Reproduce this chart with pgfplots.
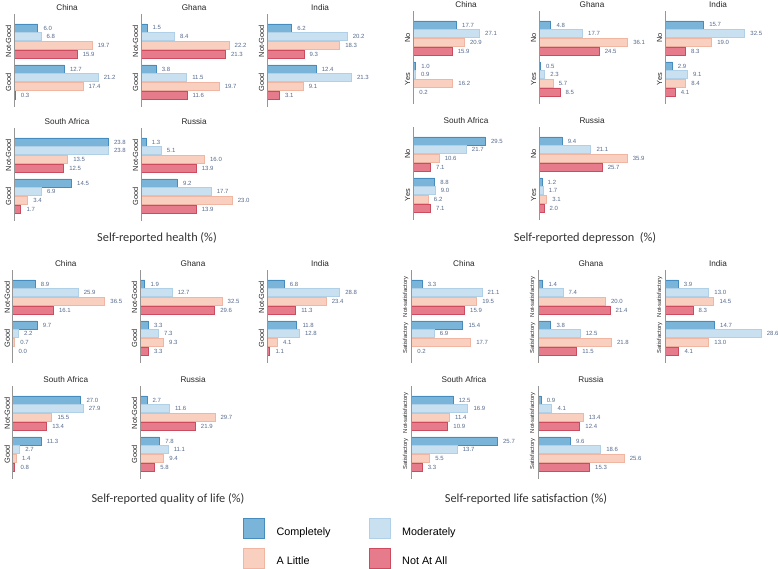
\documentclass[border=0pt]{standalone}
\usepackage{pgfplots}
\pgfplotsset{compat=1.18}
\usepackage{fontspec}
\setmainfont{Liberation Sans}
\newfontfamily\calfont{Carlito}
\definecolor{compfill}{RGB}{122,180,216}
\definecolor{compdraw}{RGB}{70,140,190}
\definecolor{modfill}{RGB}{200,224,239}
\definecolor{moddraw}{RGB}{175,208,230}
\definecolor{litfill}{RGB}{249,208,192}
\definecolor{litdraw}{RGB}{240,182,162}
\definecolor{natfill}{RGB}{229,123,139}
\definecolor{natdraw}{RGB}{205,75,95}
\definecolor{valcol}{RGB}{85,105,140}
\definecolor{axcol}{RGB}{150,150,150}
\newcommand\valfont{\fontsize{6}{7}\selectfont}
\newcommand\ttlfont{\fontsize{8.2}{9}\selectfont}
\newcommand\ylfont{\fontsize{7.4}{8}\selectfont}
\newcommand\ylsmall{\fontsize{5.8}{6.5}\selectfont}
\newcommand\secfont{\calfont\fontsize{12.3}{14}\selectfont}
\newcommand\legfont{\fontsize{10.8}{12}\selectfont}
\pgfplotsset{
 comp/.style={fill=compfill, draw=compdraw, line width=0.6pt},
 mod/.style={fill=modfill, draw=moddraw, line width=0.6pt},
 lit/.style={fill=litfill, draw=litdraw, line width=0.6pt},
 nat/.style={fill=natfill, draw=natdraw, line width=0.6pt},
 P/.style={
  anchor=north west, scale only axis, clip=false,
  y dir=reverse, y=8.67pt, ymin=-1.61, ymax=9.11, xmin=0,
  axis line style={draw=none}, major tick length=0pt,
  xtick=\empty, ytick={1.5,6.23},
  yticklabel style={rotate=90, anchor=south, inner sep=2.5pt, font=\ylfont, text=black!85},
  xbar, bar shift=0pt, bar width=0.94,
  point meta=x,
  /pgf/number format/assume math mode=true,
  nodes near coords={\pgfmathprintnumber[fixed,fixed zerofill,precision=1,assume math mode=true]{\pgfplotspointmeta}},
  nodes near coords style={font=\valfont, text=valcol, inner sep=0pt, anchor=west, xshift=5.5pt},
  title style={font=\ttlfont, text=black!85, inner sep=0pt, yshift=-2.5pt},
  after end axis/.code={\draw[axcol, line width=0.8pt] (rel axis cs:0,0) -- (rel axis cs:0,1);},
 },
 H/.style={P, x=3.96pt, xmax=26.8, yticklabels={Not-Good,Good}},
 D/.style={P, x=2.45pt, xmax=43.3, yticklabels={No,Yes}},
 Q/.style={P, x=2.52pt, xmax=42.1, yticklabels={Not-Good,Good}},
 L/.style={P, x=3.36pt, xmax=31.5, yticklabels={Not-satisfactory,Satisfactory}, yticklabel style={font=\ylsmall}},
}
\newcommand{\bars}[8]{%
 \addplot[comp] coordinates {(#1,0) (#5,4.73)};
 \addplot[mod] coordinates {(#2,1) (#6,5.73)};
 \addplot[lit] coordinates {(#3,2) (#7,6.73)};
 \addplot[nat] coordinates {(#4,3) (#8,7.73)};
}
\begin{document}
\begin{tikzpicture}
\useasboundingbox (0pt,0pt) rectangle (778pt,-569pt);
% ---------- Health ----------
\begin{axis}[H, at={(14pt,-14pt)}, title=China]
\bars{6.0}{6.8}{19.7}{15.9}{12.7}{21.2}{17.4}{0.3}
\end{axis}
\begin{axis}[H, at={(141pt,-14pt)}, title=Ghana]
\bars{1.5}{8.4}{22.2}{21.3}{3.8}{11.5}{19.7}{11.6}
\end{axis}
\begin{axis}[H, at={(267pt,-14pt)}, title=India]
\bars{6.2}{20.2}{18.3}{9.3}{12.4}{21.3}{9.1}{3.1}
\end{axis}
\begin{axis}[H, at={(14pt,-128pt)}, title=South Africa]
\bars{23.8}{23.8}{13.5}{12.5}{14.5}{6.9}{3.4}{1.7}
\end{axis}
\begin{axis}[H, at={(141pt,-128pt)}, title=Russia]
\bars{1.3}{5.1}{16.0}{13.9}{9.2}{17.7}{23.0}{13.9}
\end{axis}
% ---------- Depression ----------
\begin{axis}[D, at={(413pt,-11pt)}, title=China]
\bars{17.7}{27.1}{20.9}{15.9}{1.0}{0.9}{16.2}{0.2}
\end{axis}
\begin{axis}[D, at={(539pt,-11pt)}, title=Ghana]
\bars{4.8}{17.7}{36.1}{24.5}{0.5}{2.3}{5.7}{8.5}
\end{axis}
\begin{axis}[D, at={(665pt,-11pt)}, title=India]
\bars{15.7}{32.5}{19.0}{8.3}{2.9}{9.1}{8.4}{4.1}
\end{axis}
\begin{axis}[D, at={(413pt,-127pt)}, title=South Africa]
\bars{29.5}{21.7}{10.6}{7.1}{8.8}{9.0}{6.2}{7.1}
\end{axis}
\begin{axis}[D, at={(539pt,-127pt)}, title=Russia]
\bars{9.4}{21.1}{35.9}{25.7}{1.2}{1.7}{3.1}{2.0}
\end{axis}
% ---------- Quality of life ----------
\begin{axis}[Q, at={(12.7pt,-270pt)}, title=China]
\bars{8.9}{25.9}{36.5}{16.1}{9.7}{2.2}{0.7}{0.0}
\end{axis}
\begin{axis}[Q, at={(140pt,-270pt)}, title=Ghana]
\bars{1.9}{12.7}{32.5}{29.6}{3.3}{7.3}{9.3}{3.3}
\end{axis}
\begin{axis}[Q, at={(267pt,-270pt)}, title=India]
\bars{6.8}{28.8}{23.4}{11.3}{11.8}{12.8}{4.1}{1.1}
\end{axis}
\begin{axis}[Q, at={(12.7pt,-386pt)}, title=South Africa]
\bars{27.0}{27.9}{15.5}{13.4}{11.3}{2.7}{1.4}{0.8}
\end{axis}
\begin{axis}[Q, at={(140pt,-386pt)}, title=Russia]
\bars{2.7}{11.6}{29.7}{21.9}{7.8}{11.1}{9.4}{5.8}
\end{axis}
% ---------- Life satisfaction ----------
\begin{axis}[L, at={(411pt,-270pt)}, title=China]
\bars{3.3}{21.1}{19.5}{15.9}{15.4}{6.9}{17.7}{0.2}
\end{axis}
\begin{axis}[L, at={(538pt,-270pt)}, title=Ghana]
\bars{1.4}{7.4}{20.0}{21.4}{3.8}{12.5}{21.8}{11.5}
\end{axis}
\begin{axis}[L, at={(665pt,-270pt)}, title=India]
\bars{3.9}{13.0}{14.5}{8.3}{14.7}{28.6}{13.0}{4.1}
\end{axis}
\begin{axis}[L, at={(411pt,-386pt)}, title=South Africa]
\bars{12.5}{16.9}{11.4}{10.9}{25.7}{13.7}{5.5}{3.3}
\end{axis}
\begin{axis}[L, at={(538pt,-386pt)}, title=Russia]
\bars{0.9}{4.1}{13.4}{12.4}{9.6}{18.6}{25.6}{15.3}
\end{axis}
% ---------- section titles ----------
\node[font=\secfont, text=black!80] at (157pt,-238pt) {Self-reported health (\%)};
\node[font=\secfont, text=black!80] at (585pt,-238pt) {Self-reported depresson\ \ (\%)};
\node[font=\secfont, text=black!80] at (168pt,-499pt) {Self-reported quality of life (\%)};
\node[font=\secfont, text=black!80] at (526pt,-499pt) {Self-reported life satisfaction (\%)};
% ---------- legend ----------
\begin{axis}[at={(243pt,-518pt)}, anchor=north west, hide axis, scale only axis,
 width=10pt, height=10pt, xmin=0, xmax=1, ymin=0, ymax=1,
 legend columns=2,
 legend style={at={(0,1)}, anchor=north west, draw=none, fill=none, inner sep=0pt, outer sep=0pt,
   row sep=9pt, font=\legfont, nodes={inner sep=0pt},
   /tikz/every odd column/.style={column sep=12pt},
   /tikz/every even column/.style={column sep=38pt}},
 legend cell align=left,
 legend image code/.code={\draw[#1] (0pt,-6.1pt) rectangle (21pt,13.9pt);},
]
\addlegendimage{comp}\addlegendentry{Completely}
\addlegendimage{mod}\addlegendentry{Moderately}
\addlegendimage{lit}\addlegendentry{A Little}
\addlegendimage{nat}\addlegendentry{Not At All}
\end{axis}
\end{tikzpicture}
\end{document}
